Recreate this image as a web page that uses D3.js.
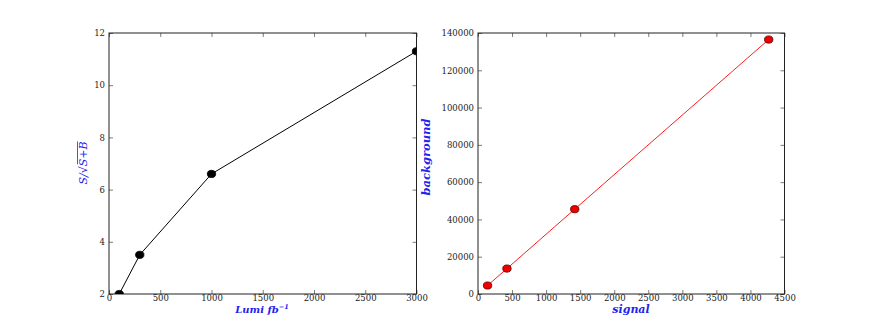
<!DOCTYPE html>
<html>
<head>
<meta charset="utf-8">
<script src="https://cdn.jsdelivr.net/npm/d3@7"></script>
<style>
  body { margin: 0; background: #fff; }
  .tick text { font-family: "DejaVu Serif", serif; font-size: 8.5px; fill: #222; }
  .lab { font-family: "DejaVu Serif", serif; font-style: italic; font-weight: bold; fill: #2222ee; }
</style>
</head>
<body>
<div id="plot"></div>
<script>
    // data
    const lumi = [100, 300, 1000, 3000];
    const significance = [2.0, 3.5, 6.6, 11.3];
    const signal = [140, 425, 1420, 4268];
    const background = [4550, 13650, 45500, 136500];

    const leftXTicks = [0, 500, 1000, 1500, 2000, 2500, 3000];
    const leftYTicks = [2, 4, 6, 8, 10, 12];
    const rightXTicks = [0, 500, 1000, 1500, 2000, 2500, 3000, 3500, 4000, 4500];
    const rightYTicks = [0, 20000, 40000, 60000, 80000, 100000, 120000, 140000];

    const svgWidth = 872, svgHeight = 327;
    const plotTop = 33, plotBottom = 294;

    const svg = d3.select('#plot').append('svg')
        .attr('width', svgWidth)
        .attr('height', svgHeight);

    function drawPanel(opts) {
        const x = d3.scaleLinear().domain(opts.xDomain).range([opts.left, opts.right]);
        const y = d3.scaleLinear().domain(opts.yDomain).range([plotBottom, plotTop]);
        const g = svg.append('g');

        // ticks inward on all four sides
        const ax = [
            [d3.axisBottom(x).tickValues(opts.xTicks).tickSize(-4).tickPadding(1), `translate(0,${plotBottom})`, true],
            [d3.axisTop(x).tickValues(opts.xTicks).tickSize(-4), `translate(0,${plotTop})`, false],
            [d3.axisLeft(y).tickValues(opts.yTicks).tickSize(-4).tickPadding(4), `translate(${opts.left},0)`, true],
            [d3.axisRight(y).tickValues(opts.yTicks).tickSize(-4), `translate(${opts.right},0)`, false]
        ];
        ax.forEach(([a, t, showText]) => {
            const s = g.append('g').attr('transform', t).call(a.tickFormat(d => d));
            s.select('.domain').remove();
            s.selectAll('line').attr('stroke', '#222').attr('stroke-width', 0.6);
            if (!showText) s.selectAll('text').remove();
        });

        g.append('rect')
            .attr('x', opts.left).attr('y', plotTop)
            .attr('width', opts.right - opts.left).attr('height', plotBottom - plotTop)
            .attr('fill', 'none').attr('stroke', '#222').attr('stroke-width', 1);

        const pts = opts.xs.map((v, i) => [v, opts.ys[i]]);
        const clip = 'clip' + Math.round(opts.left);
        g.append('clipPath').attr('id', clip).append('rect')
            .attr('x', opts.left).attr('y', plotTop)
            .attr('width', opts.right - opts.left).attr('height', plotBottom - plotTop);
        const inner = g.append('g').attr('clip-path', `url(#${clip})`);

        inner.append('path')
            .datum(pts)
            .attr('d', d3.line().x(d => x(d[0])).y(d => y(d[1])))
            .attr('fill', 'none')
            .attr('stroke', opts.lineColor)
            .attr('stroke-width', 1);

        inner.selectAll('.pt').data(pts).enter()
            .append('ellipse')
            .attr('cx', d => x(d[0]))
            .attr('cy', d => y(d[1]))
            .attr('rx', 4.2).attr('ry', 3.6)
            .attr('fill', opts.dotFill)
            .attr('stroke', opts.dotStroke)
            .attr('stroke-width', 0.8);
        return g;
    }

    drawPanel({
        left: 109, right: 416.5,
        xDomain: [0, 3000], yDomain: [2, 12],
        xTicks: leftXTicks, yTicks: leftYTicks,
        xs: lumi, ys: significance,
        lineColor: '#000', dotFill: '#000', dotStroke: '#000'
    });

    drawPanel({
        left: 478, right: 784.5,
        xDomain: [0, 4500], yDomain: [0, 140000],
        xTicks: rightXTicks, yTicks: rightYTicks,
        xs: signal, ys: background,
        lineColor: '#ff2020', dotFill: '#ee0000', dotStroke: '#550000'
    });

    // axis labels
    const xl = svg.append('text').attr('class', 'lab')
        .attr('x', 262).attr('y', 313).attr('text-anchor', 'middle')
        .style('font-size', '10px');
    xl.append('tspan').text('Lumi fb');
    xl.append('tspan').attr('dy', -4).style('font-size', '6.5px').text('−1');

    svg.append('text').attr('class', 'lab')
        .attr('x', 631).attr('y', 313).attr('text-anchor', 'middle')
        .style('font-size', '11px')
        .text('signal');

    svg.append('text').attr('class', 'lab')
        .attr('transform', 'translate(430,157) rotate(-90)')
        .attr('text-anchor', 'middle')
        .style('font-size', '11.5px')
        .text('background');

    // S/sqrt(S+B) label
    const yl = svg.append('g').attr('transform', 'translate(87,163) rotate(-90)');
    const yt = yl.append('text').attr('class', 'lab')
        .attr('text-anchor', 'middle')
        .style('font-size', '11px').style('font-weight', 'normal')
        .text('S/√S+B');
    const bb = yt.node().getBBox();
    yl.append('line')
        .attr('x1', bb.x + bb.width * 0.47).attr('x2', bb.x + bb.width)
        .attr('y1', bb.y + 0.5).attr('y2', bb.y + 0.5)
        .attr('stroke', '#2222ee').attr('stroke-width', 0.8);
</script>
</body>
</html>
